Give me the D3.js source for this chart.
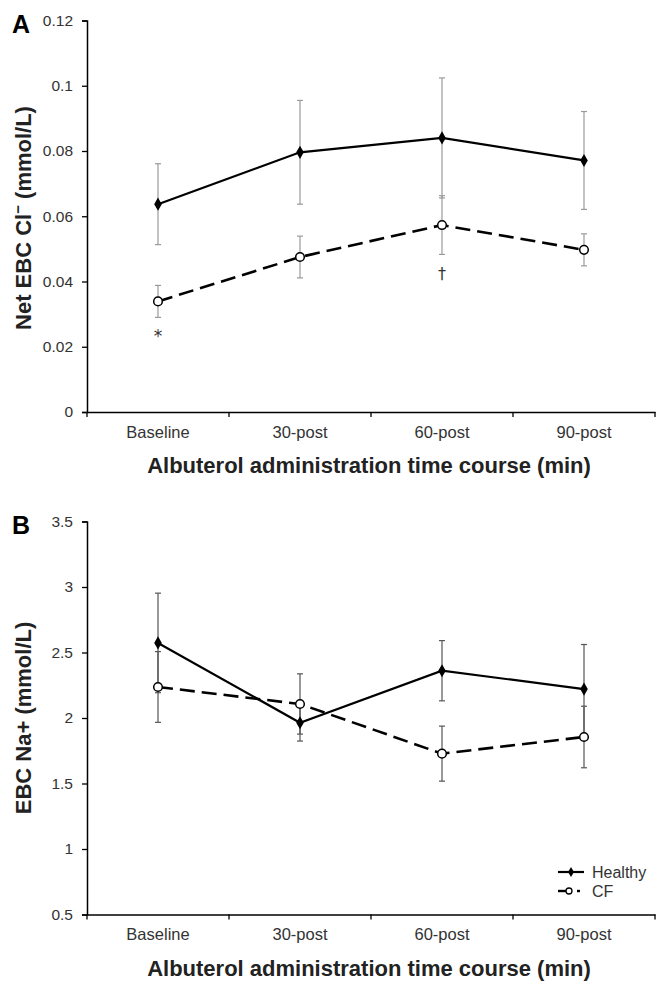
<!DOCTYPE html>
<html><head><meta charset="utf-8">
<script src="https://cdn.jsdelivr.net/npm/d3@7"></script>
<style>body{margin:0;background:#fff}svg{display:block;font-family:Arial,"Liberation Sans",sans-serif}</style>
</head><body><svg id="c" width="666" height="992"></svg>
<script>
const categories = ["Baseline","30-post","60-post","90-post"];
// Panel A: Net EBC Cl- (mmol/L)
const clHealthy = [0.0637,0.0796,0.0840,0.0771];
const clHealthyErr = [0.0124,0.0159,0.0184,0.0150];
const clCF = [0.0339,0.0475,0.0573,0.0497];
const clCFErr = [0.0049,0.0064,0.0090,0.0049];
const clTicks = [0,0.02,0.04,0.06,0.08,0.1,0.12];
const clNotes = [{i:0,text:"*"},{i:2,text:"†"}];
// Panel B: EBC Na+ (mmol/L)
const naHealthy = [2.573,1.964,2.361,2.221];
const naHealthyErr = [0.38,0.14,0.23,0.34];
const naCF = [2.237,2.107,1.728,1.855];
const naCFErr = [0.27,0.23,0.21,0.235];
const naTicks = [0.5,1,1.5,2,2.5,3,3.5];
const seriesNames = ["Healthy","CF"];

const svg = d3.select("#c");
const x0 = 87, x1 = 655;
const FONT = "Arial, 'Liberation Sans', sans-serif";

function panel(cfg){
  const g = svg.append("g");
  const x = d3.scaleBand().domain(categories).range([x0,x1]);
  const y = d3.scaleLinear().domain(cfg.domain).range([cfg.bottom,cfg.top]);
  // y axis
  const ya = g.append("g").attr("transform",`translate(${x0},0)`)
    .call(d3.axisLeft(y).tickValues(cfg.ticks).tickSize(5).tickPadding(9).tickFormat(d=>String(+d.toFixed(2))));
  ya.select(".domain").attr("stroke","#000").attr("stroke-width",1.5);
  ya.selectAll(".tick line").attr("stroke","#000").attr("stroke-width",1.3);
  ya.selectAll(".tick text").attr("font-size",15.5).attr("fill","#333").attr("font-family",FONT);
  // x axis
  const xa = g.append("g").attr("transform",`translate(0,${cfg.bottom})`)
    .call(d3.axisBottom(x).tickSize(0).tickPadding(14));
  xa.select(".domain").attr("stroke","#000").attr("stroke-width",1.5);
  xa.selectAll(".tick text").attr("font-size",16.5).attr("fill","#333").attr("font-family",FONT);
  // category boundary ticks
  const bounds = categories.map(c=>x(c)).concat([x1]);
  g.selectAll("line.bt").data(bounds).join("line").attr("class","bt")
    .attr("x1",d=>d).attr("x2",d=>d).attr("y1",cfg.bottom).attr("y2",cfg.bottom+5)
    .attr("stroke","#000").attr("stroke-width",1.3);
  const cx = c=>x(c)+x.bandwidth()/2;
  // error bars
  const errs = [[cfg.h,cfg.hErr],[cfg.cf,cfg.cfErr]];
  errs.forEach(([vals,err])=>{
    const eg = g.append("g").attr("stroke",cfg.errColor).attr("stroke-width",1.2);
    vals.forEach((v,i)=>{
      const xc = cx(categories[i]);
      eg.append("line").attr("x1",xc).attr("x2",xc).attr("y1",y(v-err[i])).attr("y2",y(v+err[i]));
      [v-err[i],v+err[i]].forEach(e=>eg.append("line").attr("x1",xc-3).attr("x2",xc+3).attr("y1",y(e)).attr("y2",y(e)));
    });
  });
  const line = d3.line().x((d,i)=>cx(categories[i])).y(d=>y(d));
  g.append("path").datum(cfg.h).attr("d",line).attr("fill","none").attr("stroke","#000").attr("stroke-width",2.2);
  g.append("path").datum(cfg.cf).attr("d",line).attr("fill","none").attr("stroke","#000").attr("stroke-width",2.6).attr("stroke-dasharray","15,7");
  const diamond = d3.symbol().type(d3.symbolDiamond).size(50);
  g.selectAll("path.hm").data(cfg.h).join("path").attr("class","hm")
    .attr("d",diamond).attr("transform",(d,i)=>`translate(${cx(categories[i])},${y(d)})`).attr("fill","#000");
  g.selectAll("circle.cm").data(cfg.cf).join("circle").attr("class","cm")
    .attr("cx",(d,i)=>cx(categories[i])).attr("cy",d=>y(d)).attr("r",4.3)
    .attr("fill","#fff").attr("stroke","#000").attr("stroke-width",1.5);
  // titles
  g.append("text").attr("x",369).attr("y",cfg.bottom+61).attr("text-anchor","middle")
    .attr("font-size",22).attr("font-weight","bold").attr("fill","#222").attr("font-family",FONT)
    .text("Albuterol administration time course (min)");
  const yt = g.append("text").attr("transform",`translate(31,${cfg.yMid}) rotate(-90)`)
    .attr("text-anchor","middle").attr("font-size",22).attr("font-weight","bold").attr("fill","#222").attr("font-family",FONT);
  cfg.yTitle(yt);
  g.append("text").attr("x",12).attr("y",cfg.top+12).attr("font-size",25).attr("font-weight","bold").attr("fill","#000").attr("font-family",FONT).text(cfg.label);
  return {g,x,y,cx};
}

const A = panel({domain:[0,0.12],top:20.5,bottom:412,yMid:218,ticks:clTicks,h:clHealthy,hErr:clHealthyErr,cf:clCF,cfErr:clCFErr,
  errColor:"#9a9a9a",label:"A",
  yTitle:t=>{t.append("tspan").text("Net EBC Cl");t.append("tspan").attr("dy",-8).attr("font-size",15).text("−");t.append("tspan").attr("dy",8).text(" (mmol/L)");}});
A.g.selectAll("text.note").data(clNotes).join("text").attr("class","note")
  .attr("x",d=>A.cx(categories[d.i])).attr("y",d=>A.y(clCF[d.i]-clCFErr[d.i])+25)
  .attr("text-anchor","middle").attr("font-size",d=>d.text==="*"?17:16).attr("fill","#333")
  .attr("font-family","'DejaVu Sans', sans-serif").text(d=>d.text);

const B = panel({domain:[0.5,3.5],top:521.5,bottom:914.5,yMid:718,ticks:naTicks,h:naHealthy,hErr:naHealthyErr,cf:naCF,cfErr:naCFErr,
  errColor:"#555",label:"B",
  yTitle:t=>t.text("EBC Na+ (mmol/L)")});

// legend
const lg = svg.append("g").attr("font-size",16).attr("fill","#333").attr("font-family",FONT);
seriesNames.forEach((n,i)=>{
  const yy = 872 + i*19;
  if(i===0){
    lg.append("line").attr("x1",558).attr("x2",584).attr("y1",yy).attr("y2",yy).attr("stroke","#000").attr("stroke-width",2.2);
    lg.append("path").attr("d",d3.symbol().type(d3.symbolDiamond).size(30)).attr("transform",`translate(571,${yy})`).attr("fill","#000");
  } else {
    lg.append("line").attr("x1",558).attr("x2",566).attr("y1",yy).attr("y2",yy).attr("stroke","#000").attr("stroke-width",2.4);
    lg.append("line").attr("x1",577).attr("x2",580).attr("y1",yy).attr("y2",yy).attr("stroke","#000").attr("stroke-width",2.4);
    lg.append("circle").attr("cx",569).attr("cy",yy).attr("r",3).attr("fill","#fff").attr("stroke","#000").attr("stroke-width",1.3);
  }
  lg.append("text").attr("x",592).attr("y",yy+6).text(n);
});
</script></body></html>
